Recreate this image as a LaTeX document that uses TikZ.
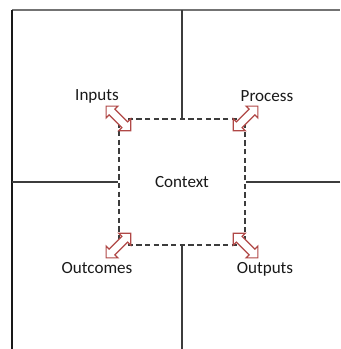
\documentclass[tikz,border=0pt]{standalone}
\usepackage{fontspec}
\setmainfont{Carlito}
\usepackage{xcolor}
\usetikzlibrary{shapes,arrows,positioning,calc}
\definecolor{arrowred}{RGB}{176,72,70}
\definecolor{linegray}{RGB}{60,60,60}

\tikzset{
    frameline/.style={draw=linegray, line width=1.1pt},
    ctxbox/.style={draw=linegray, dashed, dash pattern=on 4pt off 2.5pt, line width=0.9pt,
        minimum width=94.5pt, minimum height=94.5pt},
    dblarrow/.style={shape=double arrow, draw=arrowred, fill=white, line width=0.9pt,
        minimum height=26pt, inner sep=2.6pt, double arrow head extend=3.2pt},
    lbl/.style={font=\fontsize{12.8}{15}\selectfont, text=black!90}
}

\begin{document}
\begin{tikzpicture}[x=0.75pt, y=-0.75pt]
    \useasboundingbox (0,0) rectangle (340,349);

    % Outer frame
    \coordinate (tl) at (12,10);
    \coordinate (tr) at (340,10);
    \coordinate (bl) at (12,349);
    \draw[frameline, draw=gray!90!black] (tl) -- (tr);
    \draw[frameline, draw=black!90] (tl) -- (bl);

    % Context box
    \node[ctxbox, lbl] (ctx) at (182,182) {Context};

    % Dividers from frame to box
    \coordinate (topmid) at (182,10);
    \coordinate (botmid) at (182,349);
    \coordinate (leftmid) at (12,182);
    \coordinate (rightmid) at (340,182);
    \draw[frameline] (topmid) -- (ctx.north);
    \draw[frameline] (botmid) -- (ctx.south);
    \draw[frameline] (leftmid) -- (ctx.west);
    \draw[frameline] (rightmid) -- (ctx.east);

    % Corner arrows
    \node[dblarrow, rotate=-45] (inarrow) at (ctx.north west) {};
    \node[dblarrow, rotate=45] (procarrow) at (ctx.north east) {};
    \node[dblarrow, rotate=45] (outcarrow) at (ctx.south west) {};
    \node[dblarrow, rotate=-45] (outparrow) at (ctx.south east) {};

    % Labels
    \node[lbl] (inputs) at (97,96) {Inputs};
    \node[lbl] (process) at (267,96) {Process};
    \node[lbl] (outcomes) at (97,268) {Outcomes};
    \node[lbl] (outputs) at (265,269) {Outputs};
\end{tikzpicture}
\end{document}
